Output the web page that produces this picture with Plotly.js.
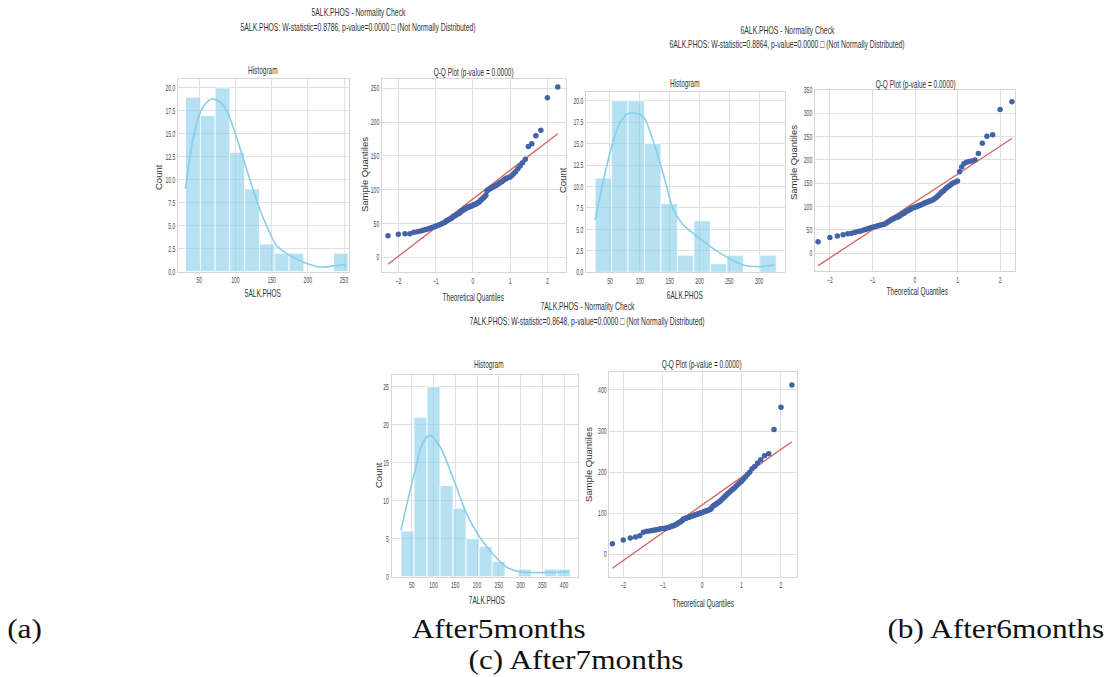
<!DOCTYPE html>
<html>
<head>
<meta charset="utf-8">
<script src="https://cdn.plot.ly/plotly-3.0.1.min.js"></script>
<style>
  html, body { margin: 0; padding: 0; background: #ffffff; }
  #chart { width: 1109px; height: 677px; }
</style>
</head>
<body>
<div id="chart"></div>
<script>
// ---------- ALK.PHOS after 5 months ----------
const binEdges5 = [31, 51.4, 71.9, 92.3, 112.7, 133.2, 153.6, 174, 194.5, 214.9, 235.3, 255.7];
const counts5 = [19, 17, 20, 13, 9, 3, 2, 2, 0, 0, 2];
const kdeX5 = [31, 42, 53, 67, 78, 88, 102, 110, 120, 134, 148, 157, 175, 194, 212, 221, 240, 253];
const kdeY5 = [9.0, 14.7, 17.6, 18.8, 18.5, 17.5, 14.5, 12.5, 10.0, 6.7, 4.1, 2.8, 1.75, 1.0, 0.55, 0.47, 0.66, 0.77];
const sample5 = [32, 34, 35, 35, 37, 38, 39, 40, 41, 42, 43, 44, 45, 46, 47, 48, 49, 50, 51,
  52, 54, 55, 56, 57, 58, 60, 61, 62, 63, 64, 65, 66, 68, 69, 70, 71,
  72, 73, 74, 74, 75, 76, 76, 77, 78, 78, 79, 80, 81, 82, 84, 85, 87, 88, 90, 92,
  98, 100, 101, 102, 103, 104, 105, 106, 107, 108, 110, 111, 112,
  114, 116, 117, 118, 119, 121, 124, 127, 131,
  135, 140, 145, 164, 168, 180, 188, 236, 252];

// ---------- ALK.PHOS after 6 months ----------
const binEdges6 = [25, 52.6, 80.2, 107.8, 135.4, 163, 190.6, 218.2, 245.8, 273.4, 301, 328.6];
const counts6 = [11, 20, 20, 15, 8, 2, 6, 1, 2, 0, 2];
const kdeX6 = [25, 50, 64, 78, 89, 106, 120, 134, 145, 156, 172, 190, 218, 245, 273, 301, 325];
const kdeY6 = [6.1, 13.9, 17.0, 18.4, 18.6, 18.1, 15.8, 12.7, 10.0, 7.3, 5.6, 4.5, 3.0, 1.8, 0.85, 0.66, 0.85];
const sample6 = [25, 34, 37, 40, 42, 43, 45, 47, 48, 50, 51,
  53, 55, 56, 57, 58, 59, 60, 61, 62, 63, 65, 67, 69, 71, 73, 74, 76, 77, 78, 79,
  81, 83, 85, 86, 88, 90, 91, 93, 94, 96, 97, 98, 99, 100, 101, 102, 103, 104, 105, 107,
  108, 109, 110, 111, 112, 113, 114, 116, 118, 120, 123, 126, 129, 132, 134,
  138, 141, 143, 146, 149, 151, 153, 155,
  175, 185, 192, 195, 197, 198, 200, 214,
  236, 251, 254, 308, 325];

// ---------- ALK.PHOS after 7 months ----------
const binEdges7 = [25.4, 55.3, 85.2, 115.1, 145, 174.9, 204.8, 234.7, 264.6, 294.5, 324.4, 354.3, 384.2, 414.1];
const counts7 = [6, 21, 25, 12, 9, 5, 4, 2, 0, 1, 0, 1, 1];
const kdeX7 = [25.4, 57.6, 77, 92, 115, 147, 176, 205, 238, 267, 297, 330, 360, 391, 412];
const kdeY7 = [6.1, 14.0, 17.8, 18.6, 17.1, 12.7, 8.3, 5.3, 2.9, 1.3, 0.66, 0.55, 0.55, 0.6, 0.65];
const sample7 = [26, 35, 40, 42, 45, 54,
  56, 57, 58, 59, 60, 61, 62, 63, 63, 64, 65, 66, 68, 69, 70, 72, 74, 76, 78, 80, 82,
  86, 87, 88, 89, 90, 91, 92, 93, 94, 95, 96, 97, 98, 99, 100, 101, 102, 103, 104, 105, 106, 107, 108, 109, 111,
  116, 118, 120, 122, 124, 126, 128, 131, 134, 137, 140, 143,
  147, 150, 153, 156, 159, 162, 166, 170, 174,
  178, 183, 188, 194, 200,
  208, 214, 222, 230,
  240, 245, 304, 358, 412];

// ---------- text ----------
const variables = ['5ALK.PHOS', '6ALK.PHOS', '7ALK.PHOS'];
const wStats = ['0.8786', '0.8864', '0.8648'];
const pValues = ['0.0000', '0.0000', '0.0000'];
const captions = ['(a)', 'After5months', '(b) After6months', '(c) After7months'];

// ---------- helpers ----------
const W = 1109, H = 677;
const fx = px => px / W;
const fy = py => 1 - py / H;

// inverse standard normal CDF (Acklam)
function normInv(p) {
  const a = [-3.969683028665376e+01, 2.209460984245205e+02, -2.759285104469687e+02, 1.383577518672690e+02, -3.066479806614716e+01, 2.506628277459239e+00];
  const b = [-5.447609879822406e+01, 1.615858368580409e+02, -1.556989798598866e+02, 6.680131188771972e+01, -1.328068155288572e+01];
  const c = [-7.784894002430293e-03, -3.223964580411365e-01, -2.400758277161838e+00, -2.549732539343734e+00, 4.374664141464968e+00, 2.938163982698783e+00];
  const d = [7.784695709041462e-03, 3.224671290700398e-01, 2.445134137142996e+00, 3.754408661907416e+00];
  const pl = 0.02425, ph = 1 - pl;
  let q, r;
  if (p < pl) {
    q = Math.sqrt(-2 * Math.log(p));
    return (((((c[0]*q+c[1])*q+c[2])*q+c[3])*q+c[4])*q+c[5]) / ((((d[0]*q+d[1])*q+d[2])*q+d[3])*q+1);
  } else if (p <= ph) {
    q = p - 0.5; r = q * q;
    return (((((a[0]*r+a[1])*r+a[2])*r+a[3])*r+a[4])*r+a[5])*q / (((((b[0]*r+b[1])*r+b[2])*r+b[3])*r+b[4])*r+1);
  }
  q = Math.sqrt(-2 * Math.log(1 - p));
  return -(((((c[0]*q+c[1])*q+c[2])*q+c[3])*q+c[4])*q+c[5]) / ((((d[0]*q+d[1])*q+d[2])*q+d[3])*q+1);
}

const SMALL = '"Liberation Sans", Arial, sans-serif';
const NARROW_NOTE = 0.65;      // horizontal compression of the small annotation text
const NARROW_TICK = 0.56;      // horizontal compression of tick labels
const WIDE_CAPTION = 1.12;     // horizontal stretch of the serif captions
const barFill = 'rgba(135,206,235,0.62)';
const kdeColor = '#87ceeb';
const dotColor = '#4263a6';
const lineColor = '#d4625f';

const traces = [];

function histTraces(edges, counts, kx, ky, xa, ya) {
  const centers = [], widths = [];
  for (let i = 0; i < counts.length; i++) {
    centers.push((edges[i] + edges[i + 1]) / 2);
    widths.push(edges[i + 1] - edges[i]);
  }
  traces.push({
    type: 'bar', x: centers, y: counts, width: widths,
    marker: { color: barFill, line: { color: '#ffffff', width: 0.8 } },
    xaxis: xa, yaxis: ya, hoverinfo: 'x+y', showlegend: false
  });
  traces.push({
    type: 'scatter', mode: 'lines', x: kx, y: ky, line: { color: kdeColor, width: 1.6, shape: 'spline' },
    xaxis: xa, yaxis: ya, showlegend: false
  });
}

function qqTraces(sample, xa, ya) {
  const s = sample.slice().sort((u, v) => u - v);
  const n = s.length;
  const tq = s.map((_, i) => normInv((i + 1) / (n + 1)));
  const mean = s.reduce((u, v) => u + v, 0) / n;
  const sd = Math.sqrt(s.reduce((u, v) => u + (v - mean) * (v - mean), 0) / n);
  traces.push({
    type: 'scatter', mode: 'lines', x: [tq[0], tq[n - 1]], y: [mean + sd * tq[0], mean + sd * tq[n - 1]],
    line: { color: lineColor, width: 1.3 }, xaxis: xa, yaxis: ya, showlegend: false
  });
  traces.push({
    type: 'scatter', mode: 'markers', x: tq, y: s,
    marker: { color: dotColor, size: 5.5 }, xaxis: xa, yaxis: ya, showlegend: false
  });
}

histTraces(binEdges5, counts5, kdeX5, kdeY5, 'x', 'y');
qqTraces(sample5, 'x2', 'y2');
histTraces(binEdges6, counts6, kdeX6, kdeY6, 'x3', 'y3');
qqTraces(sample6, 'x4', 'y4');
histTraces(binEdges7, counts7, kdeX7, kdeY7, 'x5', 'y5');
qqTraces(sample7, 'x6', 'y6');

function axis(px0, px1, range, dtick, fmt, isY) {
  const ax = {
    range: range, autorange: false, dtick: dtick, tick0: 0,
    showgrid: true, gridcolor: '#e0e0e0', gridwidth: 1,
    showline: true, linecolor: '#d6d6d6', linewidth: 1, mirror: true,
    zeroline: false, ticks: '', ticklen: 0,
    tickfont: { family: SMALL, size: 9, color: '#4a4a4a' },
    fixedrange: true
  };
  if (fmt) ax.tickformat = fmt;
  if (isY) { ax.domain = [fy(px1), fy(px0)]; }
  else { ax.domain = [fx(px0), fx(px1)]; }
  return ax;
}

const layout = {
  width: W, height: H,
  margin: { l: 0, r: 0, t: 0, b: 0 },
  paper_bgcolor: '#ffffff', plot_bgcolor: '#ffffff',
  showlegend: false, bargap: 0,
  // 5 months
  xaxis: Object.assign(axis(178, 349, [20.6, 256.9], 50, null, false), { anchor: 'y' }),
  yaxis: Object.assign(axis(79, 271.5, [0, 20.98], 2.5, '.1f', true), { anchor: 'x' }),
  xaxis2: Object.assign(axis(382, 566, [-2.44, 2.5], 1, null, false), { anchor: 'y2' }),
  yaxis2: Object.assign(axis(79, 272, [-21.7, 263.8], 50, null, true), { anchor: 'x2' }),
  // 6 months
  xaxis3: Object.assign(axis(586, 785, [9.8, 343.2], 50, null, false), { anchor: 'y3' }),
  yaxis3: Object.assign(axis(91.7, 272.3, [0, 21.05], 2.5, '.1f', true), { anchor: 'x3' }),
  xaxis4: Object.assign(axis(815, 1015, [-2.35, 2.35], 1, null, false), { anchor: 'y4' }),
  yaxis4: Object.assign(axis(90, 271, [-37.9, 350], 50, null, true), { anchor: 'x4' }),
  // 7 months
  xaxis5: Object.assign(axis(391.7, 578, [4.0, 432], 50, null, false), { anchor: 'y5' }),
  yaxis5: Object.assign(axis(375, 576.7, [0, 26.55], 5, null, true), { anchor: 'x5' }),
  xaxis6: Object.assign(axis(609.3, 796.7, [-2.355, 2.4], 1, null, false), { anchor: 'y6' }),
  yaxis6: Object.assign(axis(371.7, 576.7, [-54.5, 444.5], 100, null, true), { anchor: 'x6' }),
  annotations: []
};

const noteScale = {};   // annotation index -> horizontal glyph scale

function note(text, px, py, size, opts, scaleX) {
  if (scaleX) noteScale[layout.annotations.length] = scaleX;
  layout.annotations.push(Object.assign({
    text: text, x: fx(px), y: fy(py), xref: 'paper', yref: 'paper',
    xanchor: 'center', yanchor: 'middle', showarrow: false,
    font: { family: SMALL, size: size, color: '#333333' }
  }, opts || {}));
}

const qqTitle = p => 'Q-Q Plot (p-value = ' + p + ')';
const statLine = i => variables[i] + ': W-statistic=' + wStats[i] + ', p-value=' + pValues[i] + ' \u25A1 (Not Normally Distributed)';
const N = NARROW_NOTE;

// figure titles
note(variables[0] + ' - Normality Check', 358, 12, 10.5, null, N);
note(statLine(0), 358, 27, 10.5, null, N);
note(variables[1] + ' - Normality Check', 787, 30, 10.5, null, N);
note(statLine(1), 787, 44, 10.5, null, N);
note(variables[2] + ' - Normality Check', 587, 306, 10.5, null, N);
note(statLine(2), 587, 321, 10.5, null, N);

// panel titles
note('Histogram', 263, 70, 10, null, N);
note(qqTitle(pValues[0]), 473, 72, 10, null, N);
note('Histogram', 685, 83, 10, null, N);
note(qqTitle(pValues[1]), 915, 84, 10, null, N);
note('Histogram', 489, 364, 10, null, N);
note(qqTitle(pValues[2]), 701, 364, 10, null, N);

// axis titles
note('Count', 158, 177, 9.5, { textangle: -90 });
note(variables[0], 263, 294, 10, null, N);
note('Sample Quantiles', 364, 175, 9.5, { textangle: -90 });
note('Theoretical Quantiles', 473, 297, 10, null, N);
note('Count', 563, 180, 9.5, { textangle: -90 });
note(variables[1], 685, 296, 10, null, N);
note('Sample Quantiles', 794, 163, 9.5, { textangle: -90 });
note('Theoretical Quantiles', 917, 291, 10, null, N);
note('Count', 378, 475, 9.5, { textangle: -90 });
note(variables[2], 487, 600, 10, null, N);
note('Sample Quantiles', 588, 465, 9.5, { textangle: -90 });
note('Theoretical Quantiles', 703, 603, 10, null, N);

// sub-figure captions
const SERIF = '"Liberation Serif", "Times New Roman", serif';
const capFont = { family: SERIF, size: 28, color: '#111111' };
note(captions[0], 24, 628, 28, { font: capFont }, WIDE_CAPTION);
note(captions[1], 499, 628, 28, { font: capFont }, WIDE_CAPTION);
note(captions[2], 996, 628, 28, { font: capFont }, WIDE_CAPTION);
note(captions[3], 576, 659, 28, { font: capFont }, WIDE_CAPTION);

Plotly.newPlot('chart', traces, layout, { displayModeBar: false, staticPlot: true }).then(gd => {
  // horizontal glyph scaling for annotation texts
  gd.querySelectorAll('g.annotation').forEach(g => {
    const s = noteScale[+g.getAttribute('data-index')];
    if (!s) return;
    const t = g.querySelector('text.annotation-text');
    if (!t) return;
    t.style.transformBox = 'fill-box';
    t.style.transformOrigin = 'center';
    t.style.transform = 'scaleX(' + s + ')';
  });
  // condensed glyphs for tick labels of every axis, scaled about their anchor point
  gd.querySelectorAll('.xaxislayer-above text, .yaxislayer-above text').forEach(t => {
    const x = parseFloat(t.getAttribute('x')) || 0;
    const base = t.getAttribute('transform') || '';
    t.setAttribute('transform', base + ' translate(' + x + ' 0) scale(' + NARROW_TICK + ' 1) translate(' + (-x) + ' 0)');
  });
});
</script>
</body>
</html>
